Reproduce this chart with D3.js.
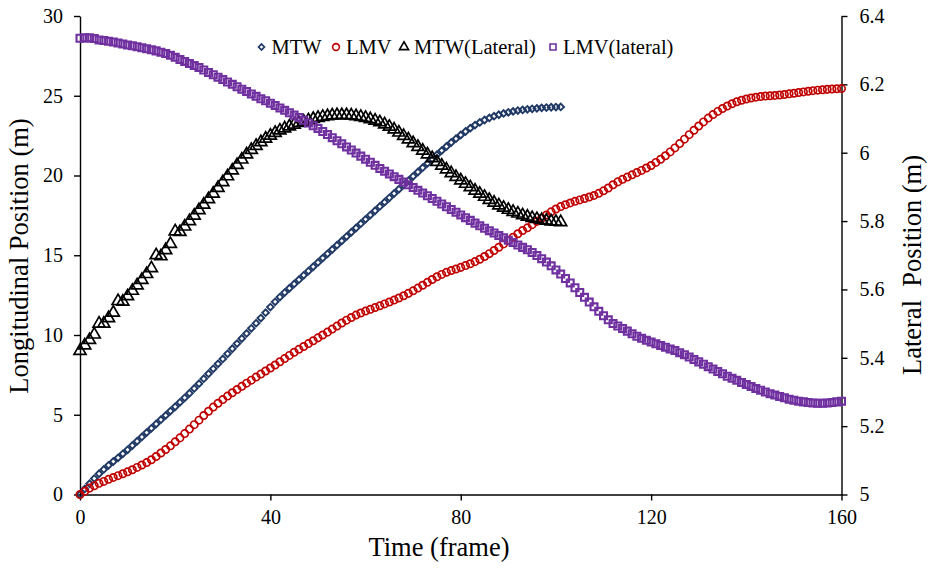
<!doctype html>
<html>
<head>
<meta charset="utf-8">
<script src="https://d3js.org/d3.v7.min.js"></script>
<style>
    body { margin: 0; background: #fff; }
    svg text { font-family: "Liberation Serif", "Times New Roman", serif; fill: #000; }
    .axis path, .axis line { stroke: #000; stroke-width: 1.4; }
    .axis text { font-size: 20px; }
</style>
</head>
<body>
<script>
// values per frame (frame = index)
var mtw = [0.00,0.35,0.68,1.00,1.30,1.57,1.83,2.07,2.30,2.55,2.80,3.07,3.34,3.61,3.88,4.15,4.42,4.69,4.96,5.23,
    5.50,5.78,6.06,6.35,6.65,6.95,7.26,7.57,7.88,8.19,8.50,8.82,9.14,9.46,9.78,10.10,10.42,10.74,11.06,11.40,
    11.75,12.08,12.38,12.66,12.93,13.20,13.47,13.74,14.01,14.28,14.55,14.82,15.09,15.36,15.63,15.90,16.17,16.44,16.71,16.98,
    17.25,17.52,17.79,18.06,18.33,18.60,18.87,19.14,19.41,19.68,19.95,20.22,20.49,20.76,21.03,21.30,21.56,21.82,22.07,22.31,
    22.54,22.76,22.97,23.16,23.33,23.48,23.61,23.72,23.81,23.89,23.96,24.02,24.07,24.11,24.15,24.18,24.21,24.24,24.26,24.28,
    24.29,24.30];

var lmv = [0.00,0.20,0.40,0.55,0.70,0.82,0.95,1.07,1.18,1.30,1.42,1.55,1.70,1.85,2.00,2.18,2.38,2.60,2.82,3.05,
    3.30,3.55,3.82,4.10,4.38,4.66,4.95,5.22,5.48,5.72,5.95,6.17,6.38,6.58,6.78,6.98,7.17,7.36,7.55,7.74,
    7.93,8.12,8.32,8.52,8.72,8.92,9.10,9.28,9.46,9.64,9.82,10.00,10.18,10.37,10.56,10.75,10.93,11.10,11.25,11.38,
    11.50,11.61,11.72,11.83,11.95,12.07,12.19,12.32,12.46,12.61,12.77,12.94,13.12,13.30,13.48,13.65,13.80,13.93,14.04,14.14,
    14.24,14.35,14.47,14.60,14.75,14.92,15.10,15.30,15.50,15.71,15.92,16.13,16.35,16.55,16.72,16.92,17.12,17.32,17.52,17.72,
    17.90,18.05,18.17,18.28,18.38,18.47,18.56,18.65,18.75,18.88,19.04,19.22,19.42,19.60,19.76,19.90,20.04,20.18,20.32,20.47,
    20.63,20.82,21.02,21.24,21.48,21.73,22.00,22.28,22.56,22.84,23.10,23.36,23.60,23.82,24.02,24.20,24.36,24.50,24.62,24.72,
    24.80,24.86,24.91,24.95,24.98,25.00,25.02,25.05,25.08,25.12,25.16,25.20,25.24,25.28,25.32,25.35,25.38,25.40,25.42,25.44,
    25.45];

var mtwLat = [5.420,5.436,5.452,5.468,5.500,5.500,5.516,5.532,5.566,5.564,5.580,5.596,5.612,5.628,5.645,5.662,5.700,5.697,5.715,5.733,
    5.770,5.768,5.784,5.800,5.816,5.832,5.848,5.864,5.880,5.897,5.914,5.931,5.948,5.964,5.980,5.995,6.008,6.020,6.031,6.041,
    6.050,6.058,6.065,6.071,6.077,6.082,6.087,6.091,6.095,6.099,6.102,6.105,6.107,6.109,6.110,6.110,6.110,6.109,6.107,6.105,
    6.102,6.098,6.094,6.089,6.083,6.076,6.068,6.059,6.049,6.039,6.028,6.017,6.006,5.995,5.984,5.973,5.962,5.951,5.940,5.929,
    5.919,5.909,5.899,5.889,5.880,5.871,5.862,5.854,5.846,5.839,5.833,5.827,5.822,5.817,5.813,5.809,5.806,5.803,5.801,5.799,
    5.798,5.797];

var lmvLat = [6.335,6.336,6.336,6.334,6.330,6.328,6.326,6.324,6.321,6.318,6.315,6.313,6.310,6.307,6.304,6.301,6.298,6.294,6.290,6.285,
    6.279,6.273,6.267,6.261,6.255,6.249,6.242,6.235,6.228,6.221,6.214,6.207,6.200,6.193,6.186,6.179,6.172,6.165,6.158,6.152,
    6.145,6.138,6.131,6.124,6.117,6.110,6.103,6.095,6.087,6.079,6.071,6.062,6.053,6.044,6.035,6.026,6.017,6.008,5.999,5.990,
    5.981,5.972,5.963,5.954,5.946,5.938,5.930,5.922,5.914,5.906,5.898,5.890,5.882,5.874,5.866,5.858,5.850,5.842,5.834,5.826,
    5.818,5.810,5.802,5.794,5.786,5.779,5.772,5.765,5.758,5.751,5.744,5.737,5.730,5.723,5.716,5.708,5.699,5.690,5.680,5.669,
    5.657,5.645,5.632,5.619,5.605,5.591,5.577,5.563,5.549,5.536,5.523,5.511,5.500,5.493,5.486,5.478,5.470,5.463,5.457,5.451,
    5.446,5.441,5.436,5.431,5.426,5.421,5.415,5.409,5.402,5.395,5.388,5.381,5.374,5.367,5.360,5.353,5.346,5.340,5.334,5.328,
    5.322,5.316,5.310,5.305,5.300,5.295,5.291,5.287,5.283,5.279,5.276,5.273,5.271,5.269,5.268,5.267,5.267,5.268,5.269,5.271,
    5.273];

var xTicks = [0, 40, 80, 120, 160];
var yLeftTicks = [0, 5, 10, 15, 20, 25, 30];
var yRightTicks = [5, 5.2, 5.4, 5.6, 5.8, 6, 6.2, 6.4];
var seriesNames = ["MTW", "LMV", "MTW(Lateral)", "LMV(lateral)"];

var width = 929, height = 568;
var plotLeft = 80, plotRight = 841.5, plotTop = 16, plotBottom = 494.5;

var svg = d3.select("body").append("svg")
    .attr("width", width)
    .attr("height", height);

var x = d3.scaleLinear().domain([0, 160]).range([plotLeft, plotRight]);
var yL = d3.scaleLinear().domain([0, 30]).range([plotBottom, plotTop]);
var yR = d3.scaleLinear().domain([5, 6.4]).range([plotBottom, plotTop]);

// axes
svg.append("g").attr("class", "axis")
    .attr("transform", "translate(0," + plotBottom + ")")
    .call(d3.axisBottom(x).tickValues(xTicks).tickSize(6).tickSizeOuter(0).tickPadding(9));
svg.append("g").attr("class", "axis")
    .attr("transform", "translate(" + plotLeft + ",0)")
    .call(d3.axisLeft(yL).tickValues(yLeftTicks).tickSize(6).tickSizeOuter(0).tickPadding(11));
svg.append("g").attr("class", "axis")
    .attr("transform", "translate(" + plotRight + ",0)")
    .call(d3.axisRight(yR).tickValues(yRightTicks).tickFormat(d3.format("~g")).tickSize(6).tickSizeOuter(0).tickPadding(12));

// markers
var styles = [
    {data: mtw, y: yL, type: d3.symbolSquare, size: 22, rot: 45, color: "#1f3864", sw: 1.9},
    {data: lmv, y: yL, type: d3.symbolCircle, size: 42, rot: 0, color: "#c00000", sw: 1.7},
    {data: mtwLat, y: yR, type: d3.symbolTriangle, size: 62, rot: 0, color: "#000000", sw: 1.7},
    {data: lmvLat, y: yR, type: d3.symbolSquare, size: 48, rot: 0, color: "#7030a0", sw: 2.1}
];

styles.forEach(function(s) {
    var sym = d3.symbol().type(s.type).size(s.size);
    svg.append("g").selectAll("path")
        .data(s.data)
        .enter().append("path")
        .attr("d", sym)
        .attr("transform", function(d, i) {
            return "translate(" + x(i) + "," + s.y(d) + ") rotate(" + s.rot + ")";
        })
        .attr("fill", "none")
        .attr("stroke", s.color)
        .attr("stroke-width", s.sw);
});

// legend
var legendX = [261.5, 336, 404, 553];
var legend = svg.append("g");
seriesNames.forEach(function(name, i) {
    var s = styles[i];
    var sz = [18, 36, 36, 36][i];
    legend.append("path")
        .attr("d", d3.symbol().type(s.type).size(sz))
        .attr("transform", "translate(" + legendX[i] + ",47) rotate(" + s.rot + ")")
        .attr("fill", "none")
        .attr("stroke", s.color)
        .attr("stroke-width", 1.6);
    legend.append("text")
        .attr("x", legendX[i] + 10)
        .attr("y", 54)
        .style("font-size", "20.5px")
        .text(name);
});

// axis titles
svg.append("text")
    .attr("x", 439).attr("y", 556)
    .attr("text-anchor", "middle")
    .style("font-size", "26.5px")
    .text("Time (frame)");

svg.append("text")
    .attr("transform", "translate(28,256) rotate(-90)")
    .attr("text-anchor", "middle")
    .style("font-size", "26.5px")
    .text("Longitudinal Position (m)");

svg.append("text")
    .attr("transform", "translate(921,265) rotate(-90)")
    .attr("text-anchor", "middle")
    .style("font-size", "26.5px")
    .style("white-space", "pre")
    .text("Lateral  Position (m)");
</script>
</body>
</html>
